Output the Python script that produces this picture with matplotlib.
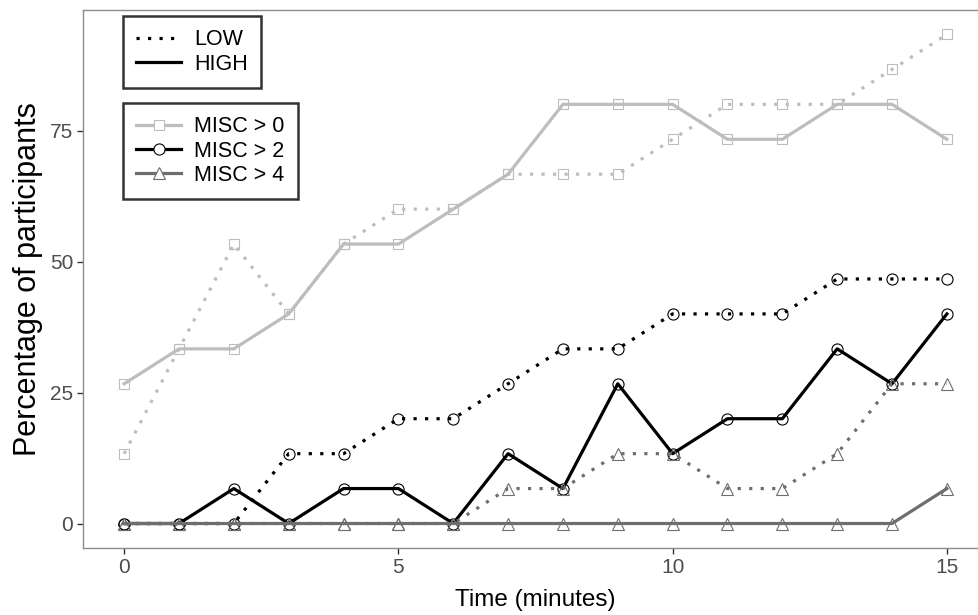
import matplotlib
matplotlib.use('Agg')
import matplotlib.pyplot as plt
from matplotlib.lines import Line2D
import numpy as np

plt.rcParams['font.family'] = ['Liberation Sans', 'DejaVu Sans']

#################################################
# data: percentage of participants per minute
minutes = list(range(16))
misc0_low  = [13.33, 33.33, 53.33, 40.0, 53.33, 60.0, 60.0, 66.67, 66.67, 66.67, 73.33, 80.0, 80.0, 80.0, 86.67, 93.33]
misc0_high = [26.67, 33.33, 33.33, 40.0, 53.33, 53.33, 60.0, 66.67, 80.0, 80.0, 80.0, 73.33, 73.33, 80.0, 80.0, 73.33]
misc2_low  = [0, 0, 0, 13.33, 13.33, 20.0, 20.0, 26.67, 33.33, 33.33, 40.0, 40.0, 40.0, 46.67, 46.67, 46.67]
misc2_high = [0, 0, 6.67, 0, 6.67, 6.67, 0, 13.33, 6.67, 26.67, 13.33, 20.0, 20.0, 33.33, 26.67, 40.0]
misc4_low  = [0, 0, 0, 0, 0, 0, 0, 6.67, 6.67, 13.33, 13.33, 6.67, 6.67, 13.33, 26.67, 26.67]
misc4_high = [0, 0, 0, 0, 0, 0, 0, 0, 0, 0, 0, 0, 0, 0, 0, 6.67]

misc_labels = ['MISC > 0', 'MISC > 2', 'MISC > 4']
misc_colors = ['#bdbdbd', '#000000', '#6e6e6e']
misc_markers = ['s', 'o', '^']
msizes = [7.5, 8, 9]
dotted = (0, (1, 2.6))
#################################################

fig = plt.figure(figsize=(9.79, 6.15), dpi=100)
ax = fig.add_axes([0.0848, 0.109, 0.9244, 0.8747])

series = [(misc0_low, misc0_high), (misc2_low, misc2_high), (misc4_low, misc4_high)]
for (low, high), col, mk, ms in zip(series, misc_colors, misc_markers, msizes):
    ax.plot(minutes, low, color=col, lw=2.3, linestyle=dotted,
            marker=mk, ms=ms, mfc='none', mec=col, mew=0.8)
    ax.plot(minutes, high, color=col, lw=2.3, linestyle='-',
            marker=mk, ms=ms, mfc='none', mec=col, mew=0.8)

ax.set_xlim(-0.75, 15.75)
ax.set_ylim(-4.667, 98.0)
ax.set_xticks([0, 5, 10, 15])
ax.set_yticks([0, 25, 50, 75])
ax.tick_params(axis='both', direction='out', length=4, width=1, color='#333333',
               labelcolor='#4d4d4d', labelsize=15, pad=3)
for sp in ax.spines.values():
    sp.set_color('#8c8c8c')
    sp.set_linewidth(1)

ax.set_xlabel('Time (minutes)', fontsize=17.5, labelpad=9)
ax.set_ylabel('Percentage of participants', fontsize=22, labelpad=5)

# legend for LOW / HIGH line types
type_handles = [Line2D([], [], color='k', lw=2.3, linestyle=dotted),
                Line2D([], [], color='k', lw=2.3, linestyle='-')]
leg1 = fig.legend(type_handles, ['LOW', 'HIGH'], loc='upper left',
                  bbox_to_anchor=(122.7 / 979, 1 - 16 / 615), borderaxespad=0,
                  fontsize=15.5, frameon=True, fancybox=False, handlelength=2.1,
                  handletextpad=0.6, labelspacing=0.15, borderpad=0.62)
leg1.get_frame().set_edgecolor('k')
leg1.get_frame().set_linewidth(1.8)

misc_handles = [Line2D([], [], color=c, lw=2.3, marker=m, ms=s, mfc='white', mec=c, mew=0.8)
                for c, m, s in zip(misc_colors, misc_markers, msizes)]
leg2 = fig.legend(misc_handles, misc_labels, loc='upper left',
                  bbox_to_anchor=(122.7 / 979, 1 - 103 / 615), borderaxespad=0,
                  fontsize=15.5, frameon=True, fancybox=False, handlelength=2.1,
                  handletextpad=0.6, labelspacing=0.15, borderpad=0.62)
leg2.get_frame().set_edgecolor('k')
leg2.get_frame().set_linewidth(1.8)

fig.savefig('out.png', dpi=100)
print("chart saved")
